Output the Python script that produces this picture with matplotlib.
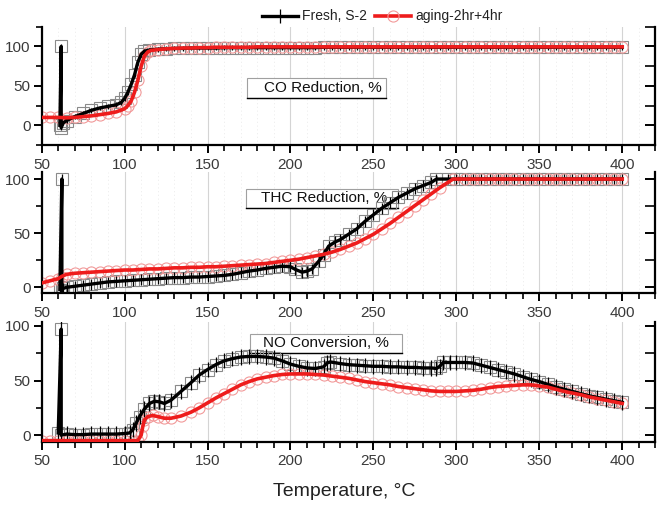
import matplotlib
matplotlib.use("Agg")
import matplotlib.pyplot as plt
from matplotlib.patches import Rectangle
from matplotlib.lines import Line2D
from matplotlib.ticker import MultipleLocator

plt.rcParams['font.family'] = ['Liberation Sans', 'DejaVu Sans']

# ---------------- data ----------------
# CO reduction
co_fresh_x = [61, 61.8, 61.8, 63, 65, 70, 75, 80, 85, 90, 95, 98, 100, 102, 104, 106, 108, 110, 112, 115,
              120, 125, 130, 135, 140, 145, 150, 155, 160, 165, 170, 175, 180, 185, 190, 195, 200, 205,
              210, 215, 220, 225, 230, 235, 240, 245, 250, 255, 260, 265, 270, 275, 280, 285, 290, 295,
              300, 305, 310, 315, 320, 325, 330, 335, 340, 345, 350, 355, 360, 365, 370, 375, 380, 385,
              390, 395, 400]
co_fresh_y = [0, 100, -3, 3, 6, 11, 15, 19, 22, 24, 26, 29, 34, 42, 52, 64, 80, 90, 94, 95.5,
              96.5, 97, 97.5, 97.5, 98, 98, 98, 98, 98.5, 98.5, 98.5, 98.5, 98.5, 98.5, 98.5, 98.5, 98.5, 98.5,
              98.5, 98.5, 99, 99, 99, 99, 99, 99, 99, 99, 99, 99, 99, 99, 99, 99, 99, 99,
              99, 99, 99, 99, 99, 99, 99, 99, 99, 99, 99, 99, 99, 99, 99, 99, 99, 99,
              99, 99, 99]
co_aged_x = [50, 55, 60, 65, 70, 75, 80, 85, 90, 95, 100, 102, 104, 106, 108, 110, 112, 114, 116, 120,
             125, 130, 135, 140, 145, 150, 155, 160, 165, 170, 175, 180, 185, 190, 195, 200, 205, 210,
             215, 220, 225, 230, 235, 240, 245, 250, 255, 260, 265, 270, 275, 280, 285, 290, 295, 300,
             305, 310, 315, 320, 325, 330, 335, 340, 345, 350, 355, 360, 365, 370, 375, 380, 385, 390,
             395, 400]
co_aged_y = [10, 10, 10, 9.5, 10, 11, 12, 13.5, 15, 17, 21, 25, 31, 42, 57, 75, 88, 93, 95, 96,
             97, 97.5, 98, 98, 98.5, 98.5, 99, 99, 99, 99, 99, 99.5, 99.5, 99.5, 99.5, 99.5, 99.5, 99.5,
             99.5, 99.5, 99.5, 99.5, 99.5, 99.5, 99.5, 99.5, 99.5, 99.5, 99.5, 99.5, 99.5, 99.5, 99.5, 99.5, 99.5, 99.5,
             99.5, 99.5, 99.5, 99.5, 99.5, 99.5, 99.5, 99.5, 99.5, 99.5, 99.5, 99.5, 99.5, 99.5, 99.5, 99.5, 99.5, 99.5,
             99.5, 99.5]

# THC reduction
thc_fresh_x = [61, 62.2, 62.2, 63, 65, 70, 75, 80, 85, 90, 95, 100, 105, 110, 115, 120, 125, 130, 135, 140,
               145, 150, 155, 160, 165, 170, 175, 180, 185, 190, 195, 200, 203, 207, 210, 213, 217, 220,
               223, 227, 230, 235, 240, 245, 250, 255, 260, 265, 270, 275, 280, 285, 288, 295, 300, 305,
               310, 315, 320, 325, 330, 335, 340, 345, 350, 355, 360, 365, 370, 375, 380, 385, 390, 395, 400]
thc_fresh_y = [-2, 100, -3, -1, 0, 1, 2, 3, 4, 5, 5.5, 6, 6.5, 7, 7.5, 8, 8.5, 9, 9, 9.5,
               9.5, 10, 10.5, 11, 12, 13.5, 15, 16, 17.5, 18.5, 19.5, 19, 16.5, 14, 15, 17, 24, 30,
               38, 42, 44, 49, 54, 61, 67, 73, 78, 83, 87, 91, 94, 97, 100, 100, 100, 100,
               100, 100, 100, 100, 100, 100, 100, 100, 100, 100, 100, 100, 100, 100, 100, 100, 100, 100, 100]
thc_aged_x = [50, 55, 60, 62, 65, 70, 75, 80, 85, 90, 95, 100, 105, 110, 115, 120, 125, 130, 135, 140,
              145, 150, 155, 160, 165, 170, 175, 180, 185, 190, 195, 200, 205, 210, 215, 220, 225, 230,
              235, 240, 245, 250, 255, 260, 265, 270, 275, 280, 285, 290, 298, 305, 310, 315, 320, 325,
              330, 335, 340, 345, 350, 355, 360, 365, 370, 375, 380, 385, 390, 395, 400]
thc_aged_y = [4, 6, 8, 10, 12, 13, 13.5, 14, 14.5, 15, 15.5, 16, 16, 16.5, 17, 17, 17.5, 18, 18, 18.5,
              18.5, 19, 19, 19.5, 20, 20.5, 21, 21.5, 22, 23, 24, 25, 26, 27.5, 29, 30.5, 32.5, 35,
              38, 41, 45, 49, 54, 59, 64.5, 70, 75.5, 81, 86.5, 92, 100, 100, 100, 100, 100, 100,
              100, 100, 100, 100, 100, 100, 100, 100, 100, 100, 100, 100, 100, 100, 100]

# NO conversion
no_fresh_x = [60, 61.8, 61.8, 65, 70, 75, 80, 85, 90, 95, 100, 103, 105, 107, 109, 112, 115, 118, 121, 124,
              128, 134, 140, 145, 150, 155, 160, 165, 170, 175, 180, 185, 190, 195, 200, 205, 210, 215,
              220, 222, 224, 230, 235, 240, 245, 250, 255, 260, 265, 270, 275, 280, 285, 288, 290, 292,
              296, 300, 305, 310, 315, 320, 325, 330, 335, 340, 345, 350, 355, 360, 365, 370, 375, 380,
              385, 390, 395, 400]
no_fresh_y = [2, 97, 0, 1, 0.5, 0.5, 1, 1, 1, 1, 1.5, 2, 5, 11, 17, 24, 29, 31, 30.5, 29,
              32, 40, 48, 55, 60, 64.5, 68, 70, 71.5, 72, 72, 71.5, 70.5, 68, 65, 63, 61.5, 61,
              62.5, 66, 67, 65.5, 64.5, 64, 63.5, 63, 63, 62.5, 62.5, 62, 62, 61.5, 61.5, 61, 63, 66.5,
              66.5, 66.5, 66.5, 66, 64, 62, 60, 58, 56, 53.5, 51, 49, 46.5, 44, 42, 40, 38, 36,
              34.5, 33, 31.5, 30]
no_aged_x = [50, 55, 60, 65, 70, 75, 80, 85, 90, 95, 100, 105, 108, 110, 111, 112, 114, 117, 120, 124,
             128, 134, 140, 145, 150, 155, 160, 165, 170, 175, 180, 185, 190, 195, 200, 205, 210, 215,
             220, 225, 230, 235, 240, 245, 250, 255, 260, 265, 270, 275, 280, 285, 290, 295, 300, 305,
             310, 315, 320, 325, 330, 335, 340, 345, 350, 355, 360, 365, 370, 375, 380, 385, 390, 395, 400]
no_aged_y = [-5, -5, -5, -5, -5, -5, -5, -5, -5, -5, -5, -5, -5, 0, 8, 14, 17, 18, 17, 15.5,
             15.5, 17.5, 21, 25, 29.5, 34, 38, 42, 46, 49, 51.5, 53, 54.5, 55.5, 56, 56, 56, 55.5,
             55, 54, 53, 52, 50.5, 49, 48, 47, 46, 44.5, 43.5, 42.5, 41.5, 40.5, 40, 40, 40, 40.5,
             41, 42, 43.5, 44.5, 45, 45.5, 46, 46, 45, 44, 42, 40, 38.5, 37, 35, 33.5, 32, 30.5, 29]

panels = [
    (co_fresh_x, co_fresh_y, co_aged_x, co_aged_y, 3, "CO Reduction, %"),
    (thc_fresh_x, thc_fresh_y, thc_aged_x, thc_aged_y, 5, "THC Reduction, %"),
    (no_fresh_x, no_fresh_y, no_aged_x, no_aged_y, 7, "NO Conversion, %"),
]
legend_labels = ["Fresh, S-2", "aging-2hr+4hr"]

# ---------------- layout ----------------
fig = plt.figure(figsize=(6.65, 5.15), dpi=100)
rects = [[0.0626, 0.7184, 0.923, 0.2297],
         [0.0626, 0.4305, 0.923, 0.2355],
         [0.0626, 0.1423, 0.923, 0.2324]]
ylims = [(-25, 125), (-5.5, 106.5), (-6, 103.5)]
boxes = [((173.6, 257.8, 34.6, 60), (219.5, 47.3)),
         ((173, 265, 73.3, 90.8), (220.5, 82.3)),
         ((175.5, 267.5, 75.4, 92.5), (221.5, 84.0))]

handles = None
for i, (fx, fy, ax_, ay, err, title) in enumerate(panels):
    ax = fig.add_axes(rects[i])
    ax.set_xlim(50, 420)
    ax.set_ylim(*ylims[i])
    ax.xaxis.set_major_locator(MultipleLocator(50))
    ax.xaxis.set_minor_locator(MultipleLocator(10))
    ax.yaxis.set_major_locator(MultipleLocator(50))
    ax.yaxis.set_minor_locator(MultipleLocator(25))
    ax.grid(True, which='major', axis='x', color='#d4d4d4', lw=0.8, ls='-', zorder=0)
    ax.grid(True, which='minor', axis='x', color='#ececec', lw=0.6, ls=(0, (1.5, 3)), zorder=0)
    ax.set_axisbelow(True)
    ax.spines['top'].set_visible(False)
    for s in ['left', 'bottom', 'right']:
        ax.spines[s].set_linewidth(1.6)
    ax.tick_params(axis='x', which='major', direction='out', length=6, width=1.4,
                   labelsize=11, labelcolor='#3a3a3a', pad=3)
    ax.tick_params(axis='x', which='minor', direction='out', length=4, width=1.2)
    ax.tick_params(axis='y', which='major', direction='out', length=6, width=1.4,
                   labelsize=11, labelcolor='#3a3a3a', pad=2, right=True)
    ax.tick_params(axis='y', which='minor', direction='out', length=4, width=1.2, right=True)
    for t in ax.yaxis.get_major_ticks() + ax.yaxis.get_minor_ticks():
        t.tick2line.set_marker(matplotlib.markers.TICKLEFT)
        t.tick2line.set_markersize(7)

    (x0, x1, y0, y1), (tx, ty) = boxes[i]
    ax.add_patch(Rectangle((x0, y0), x1 - x0, y1 - y0, facecolor='white',
                           edgecolor='#a0a0a0', lw=0.8, zorder=1.5))
    ax.plot([x0, x1], [y0, y0], color='black', lw=1.0, zorder=1.6)
    ax.text(tx, ty, title, ha='center', va='center', fontsize=11, color='#111111', zorder=1.7)

    ax.plot(fx, fy, ls='none', marker='s', ms=8, mfc='none', mec='#8a8a8a', mew=0.8, zorder=2)
    eb = ax.errorbar(fx, fy, yerr=err, color='black', lw=2.4, elinewidth=0.9, capsize=0,
                     zorder=3, label=legend_labels[0])
    ax.plot(ax_, ay, ls='none', marker='o', ms=8, mfc='none', mec='#f29a9a', mew=0.8, zorder=2.5)
    ax.plot(ax_, ay, color='#ee1c1c', lw=2.6, zorder=4)
    if i == 0:
        red_handle = Line2D([], [], color='#ee1c1c', lw=2.6, marker='o', ms=8,
                            mfc='none', mec='#f29a9a', mew=0.8)
        handles = [eb, red_handle]

fig.legend(handles, legend_labels, loc='center', bbox_to_anchor=(0.575, 0.968), ncol=2,
           frameon=False, fontsize=10, handlelength=2.6, columnspacing=0.6, handletextpad=0.3,
           labelcolor='#222222')

fig.text(0.517, 0.045, "Temperature, °C", ha='center', va='center', fontsize=14, color='#222222')

fig.savefig("out.png", dpi=100)
